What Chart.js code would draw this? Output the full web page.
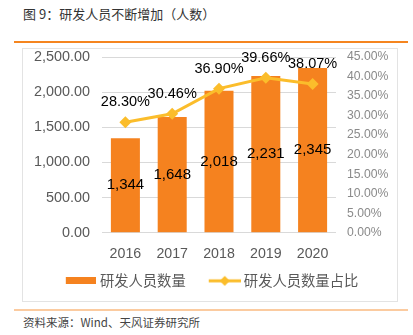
<!doctype html>
<html lang="zh">
<head>
<meta charset="utf-8">
<title>研发人员不断增加（人数）</title>
<script src="https://cdn.jsdelivr.net/npm/chart.js"></script>
<style>
  html, body { margin: 0; padding: 0; background: #fff; }
  body { width: 413px; height: 335px; position: relative; overflow: hidden; font-family: "Noto Sans CJK SC", sans-serif; }
  #title { position: absolute; left: 23px; top: 5px; font-size: 13px; line-height: 18px; color: #333; }
  #rule-top { position: absolute; left: 14px; top: 41px; width: 394px; height: 2px; background: #f5851f; }
  #box { position: absolute; left: 22px; top: 48px; width: 376px; height: 254px; border: 1px solid #e3e3e3; box-sizing: border-box; }
  #chart-wrap { position: absolute; left: 22px; top: 48px; width: 376px; height: 254px; }
  #rule-bottom { position: absolute; left: 14px; top: 309px; width: 394px; height: 2px; background: #fbcba0; }
  #source { position: absolute; left: 23px; top: 314px; font-size: 11.5px; line-height: 16px; color: #444; }
</style>
</head>
<body>
  <div id="title">图 9：研发人员不断增加（人数）</div>
  <div id="rule-top"></div>
  <div id="box"></div>
  <div id="chart-wrap"><canvas id="chart" width="376" height="254"></canvas></div>
  <div id="rule-bottom"></div>
  <div id="source">资料来源：Wind、天风证券研究所</div>

<script>
  // data
  const years = ['2016', '2017', '2018', '2019', '2020'];
  const staffCount = [1344, 1648, 2018, 2231, 2345];
  const staffShare = [28.30, 30.46, 36.90, 39.66, 38.07];
  const countAxis = { min: 0, max: 2500, step: 500 };
  const shareAxis = { min: 0, max: 45, step: 5 };

  const barColor = '#f5821f';
  const lineColor = '#fbbd2b';
  const numFont = '"Liberation Sans", Arial, sans-serif';

  // legend markers as small canvases, drawn off-centre in a wide legend box
  // so the marker sits close to its own text and far from the previous item
  function swatch(w, h, draw) {
    const c = document.createElement('canvas');
    c.width = w; c.height = h;
    draw(c.getContext('2d'));
    return c;
  }
  const barSwatch = swatch(47, 7, g => {
    g.fillStyle = barColor;
    g.fillRect(17, 0, 30, 7);
  });
  const lineSwatch = swatch(49, 12, g => {
    g.strokeStyle = lineColor;
    g.lineWidth = 3;
    g.beginPath(); g.moveTo(17, 6); g.lineTo(49, 6); g.stroke();
    g.fillStyle = lineColor;
    g.beginPath();
    g.moveTo(33, 1); g.lineTo(38, 6); g.lineTo(33, 11); g.lineTo(28, 6);
    g.closePath(); g.fill();
  });

  // value labels: counts in the middle of bars, shares above the points
  const valueLabels = {
    id: 'valueLabels',
    afterDatasetsDraw(chart) {
      const ctx = chart.ctx;
      ctx.save();
      ctx.fillStyle = '#000';
      ctx.textAlign = 'center';
      ctx.textBaseline = 'middle';
      ctx.font = '15px ' + numFont;
      chart.getDatasetMeta(0).data.forEach((bar, i) => {
        const p = bar.getProps(['x', 'y', 'base'], true);
        ctx.fillText(staffCount[i].toLocaleString('en-US'), p.x, (p.y + p.base) / 2);
      });
      ctx.font = '14.5px ' + numFont;
      chart.getDatasetMeta(1).data.forEach((pt, i) => {
        ctx.fillText(staffShare[i].toFixed(2) + '%', pt.x, pt.y - 20);
      });
      ctx.restore();
    }
  };

  // tick padding also pads the axis ends; keep the plot top where the reference has it
  const trimEnds = s => { s.paddingTop = 8; s.paddingBottom = 8; };

  new Chart(document.getElementById('chart'), {
    data: {
      labels: years,
      datasets: [
        {
          type: 'bar',
          label: '研发人员数量',
          data: staffCount,
          yAxisID: 'yCount',
          backgroundColor: barColor,
          barPercentage: 0.62,
          categoryPercentage: 1.0,
          order: 2
        },
        {
          type: 'line',
          label: '研发人员数量占比',
          data: staffShare,
          yAxisID: 'yShare',
          borderColor: lineColor,
          backgroundColor: lineColor,
          borderWidth: 3,
          pointStyle: 'rectRot',
          pointRadius: 6,
          pointBorderWidth: 0,
          tension: 0,
          order: 1
        }
      ]
    },
    options: {
      responsive: false,
      animation: false,
      layout: { padding: { top: 9, bottom: 4, left: 0, right: 10 } },
      scales: {
        x: {
          grid: { display: false },
          border: { display: false },
          ticks: { color: '#595959', font: { family: numFont, size: 14.2 }, padding: 5 },
          afterFit: s => { s.height = 31; }
        },
        yCount: {
          position: 'left',
          min: countAxis.min, max: countAxis.max,
          grid: { color: '#d9d9d9', drawTicks: false },
          border: { display: false },
          ticks: {
            stepSize: countAxis.step,
            color: '#595959',
            font: { family: numFont, size: 14.4 },
            padding: 12,
            callback: v => v.toLocaleString('en-US', { minimumFractionDigits: 2, maximumFractionDigits: 2 })
          },
          afterFit: s => { s.width = 80; trimEnds(s); }
        },
        yShare: {
          position: 'right',
          min: shareAxis.min, max: shareAxis.max,
          grid: { display: false, drawTicks: false },
          border: { display: false },
          ticks: {
            stepSize: shareAxis.step,
            color: '#8a8a8a',
            font: { family: numFont, size: 12.2 },
            padding: 11,
            callback: v => v.toFixed(2) + '%'
          },
          afterFit: s => { s.width = 52; trimEnds(s); }
        }
      },
      plugins: {
        tooltip: { enabled: false },
        legend: {
          position: 'bottom',
          labels: {
            usePointStyle: true,
            pointStyleWidth: 41,
            padding: 10,
            color: '#595959',
            font: { family: '"Noto Sans CJK SC", sans-serif', size: 14.3 },
            generateLabels(chart) {
              const items = Chart.defaults.plugins.legend.labels.generateLabels(chart);
              items.sort((a, b) => a.datasetIndex - b.datasetIndex);
              items.forEach(it => {
                it.pointStyle = it.datasetIndex === 0 ? barSwatch : lineSwatch;
              });
              return items;
            }
          }
        }
      }
    },
    plugins: [valueLabels]
  });
</script>
</body>
</html>
